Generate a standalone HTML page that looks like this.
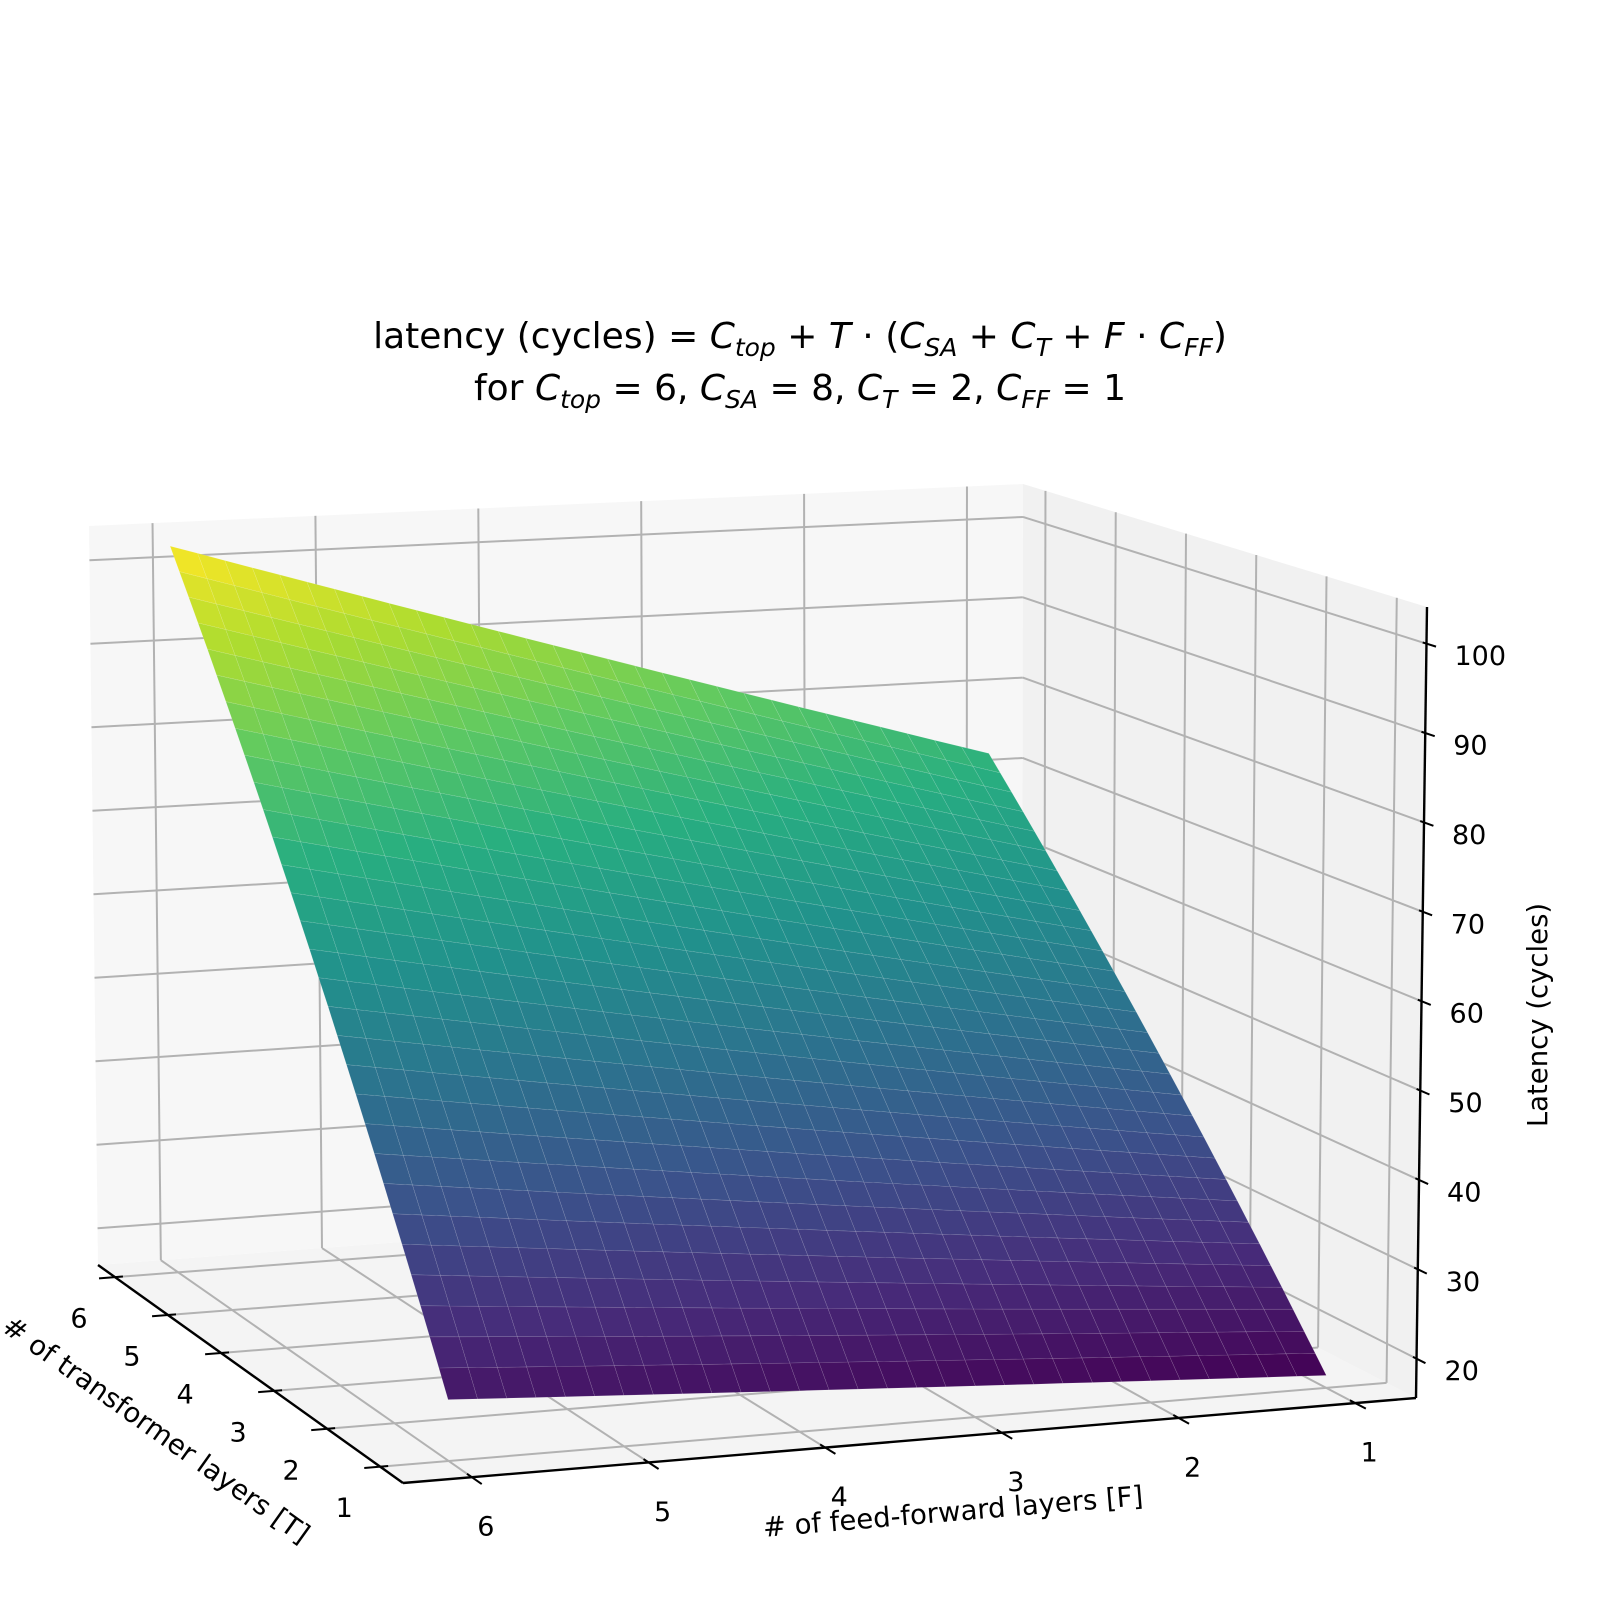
<!DOCTYPE html>
<html><head><meta charset="utf-8">
<style>
html,body{margin:0;padding:0;background:#fff;}
#wrap{position:relative;width:1600px;height:1600px;overflow:hidden;font-family:"DejaVu Sans","Liberation Sans",sans-serif;}
.title{position:absolute;left:0;width:1600px;text-align:center;font-size:36px;color:#000;white-space:nowrap;}
.title i{font-style:oblique;}
.title sub{font-size:25px;vertical-align:-8px;line-height:0;font-style:oblique;}
svg text{font-family:"DejaVu Sans","Liberation Sans",sans-serif;fill:#000;}
</style></head>
<body>
<div id="wrap">
<div class="title" style="top:316px">latency (cycles) = <i>C</i><sub>top</sub> + <i>T</i> · (<i>C</i><sub>SA</sub> + <i>C</i><sub>T</sub> + <i>F</i> · <i>C</i><sub>FF</sub>)</div>
<div class="title" style="top:368px">for <i>C</i><sub>top</sub> = 6, <i>C</i><sub>SA</sub> = 8, <i>C</i><sub>T</sub> = 2, <i>C</i><sub>FF</sub> = 1</div>
<svg id="plot" width="1600" height="1600" style="position:absolute;left:0;top:0"></svg>
</div>
<script>
// ---- data ----
const tValues = [1, 1.167, 1.333, 1.5, 1.667, 1.833, 2, 2.167, 2.333, 2.5, 2.667, 2.833, 3, 3.167, 3.333, 3.5, 3.667, 3.833, 4, 4.167, 4.333, 4.5, 4.667, 4.833, 5, 5.167, 5.333, 5.5, 5.667, 5.833, 6];
const fValues = [1, 1.167, 1.333, 1.5, 1.667, 1.833, 2, 2.167, 2.333, 2.5, 2.667, 2.833, 3, 3.167, 3.333, 3.5, 3.667, 3.833, 4, 4.167, 4.333, 4.5, 4.667, 4.833, 5, 5.167, 5.333, 5.5, 5.667, 5.833, 6];
const costTop = [6];
const costSA = [8];
const costT = [2];
const costFF = [1];
const tTicks = [1, 2, 3, 4, 5, 6];
const fTicks = [1, 2, 3, 4, 5, 6];
const zTicks = [20, 30, 40, 50, 60, 70, 80, 90, 100];
const zTickLabels = ["20", "30", "40", "50", "60", "70", "80", "90", "100"];

// ---- axis limits / projection ----
const T_MIN = 0.57, T_MAX = 6.32, F_MIN = 0.656, F_MAX = 6.39, Z_MIN = 15.6, Z_MAX = 104.1;
const K = {
  '000': [1416, 1398], '010': [403, 1483], '100': [1022, 1195], '110': [98, 1265],
  '001': [1427, 607], '011': [395, 620], '101': [1023, 484], '111': [89, 526]
};
function lerp(a, b, t) { return [a[0] + (b[0] - a[0]) * t, a[1] + (b[1] - a[1]) * t]; }
function proj(T, F, z) {
  const u = (T - T_MIN) / (T_MAX - T_MIN), v = (F - F_MIN) / (F_MAX - F_MIN), w = (z - Z_MIN) / (Z_MAX - Z_MIN);
  const f0 = lerp(lerp(K['000'], K['010'], v), lerp(K['100'], K['110'], v), u);
  const f1 = lerp(lerp(K['001'], K['011'], v), lerp(K['101'], K['111'], v), u);
  return lerp(f0, f1, w);
}
const stops = [[68,1,84],[71,44,122],[59,82,139],[44,114,142],[33,145,140],[40,174,128],[94,201,98],[173,220,48],[253,231,37]];
function viridis(t) {
  t = Math.max(0, Math.min(1, t)) * 8; const i = Math.min(7, Math.floor(t)), f = t - i;
  const a = stops[i], b = stops[i + 1];
  return 'rgb(' + [0,1,2].map(k => Math.round(a[k] + (b[k] - a[k]) * f)).join(',') + ')';
}
function latency(T, F) { return costTop[0] + T * (costSA[0] + costT[0] + F * costFF[0]); }

const NS = 'http://www.w3.org/2000/svg';
const svg = document.getElementById('plot');
function mk(tag, attrs, parent) {
  const e = document.createElementNS(NS, tag);
  for (const k in attrs) e.setAttribute(k, attrs[k]);
  (parent || svg).appendChild(e); return e;
}
function pts(list) { return list.map(p => p[0].toFixed(1) + ',' + p[1].toFixed(1)).join(' '); }

// panes
const floor = mk('polygon', {points: pts([proj(T_MIN,F_MIN,Z_MIN), proj(T_MIN,F_MAX,Z_MIN), proj(T_MAX,F_MAX,Z_MIN), proj(T_MAX,F_MIN,Z_MIN)]), fill: '#f4f4f4'});


const back = mk('polygon', {points: pts([proj(T_MAX,F_MIN,Z_MIN), proj(T_MAX,F_MAX,Z_MIN), proj(T_MAX,F_MAX,Z_MAX), proj(T_MAX,F_MIN,Z_MAX)]), fill: '#f7f7f7'});


const side = mk('polygon', {points: pts([proj(T_MIN,F_MIN,Z_MIN), proj(T_MAX,F_MIN,Z_MIN), proj(T_MAX,F_MIN,Z_MAX), proj(T_MIN,F_MIN,Z_MAX)]), fill: '#f1f1f1'});



// gridlines
const grid = mk('g', {stroke: '#b2b2b2', 'stroke-width': 2, fill: 'none'});


function line(a, b, parent, attrs) { const l = mk('line', Object.assign({x1: a[0], y1: a[1], x2: b[0], y2: b[1]}, attrs || {}), parent); return l; }
fTicks.forEach(F => {
  const l1 = line(proj(T_MAX,F,Z_MIN), proj(T_MAX,F,Z_MAX), grid);
  
  
  const l2 = line(proj(T_MIN,F,Z_MIN), proj(T_MAX,F,Z_MIN), grid);
  
  
});
tTicks.forEach(T => {
  const l1 = line(proj(T,F_MIN,Z_MIN), proj(T,F_MIN,Z_MAX), grid);
  
  
  const l2 = line(proj(T,F_MIN,Z_MIN), proj(T,F_MAX,Z_MIN), grid);
  
  
});
zTicks.forEach(z => {
  const l1 = line(proj(T_MAX,F_MIN,z), proj(T_MAX,F_MAX,z), grid);
  
  
  const l2 = line(proj(T_MIN,F_MIN,z), proj(T_MAX,F_MIN,z), grid);
  
  
});

// axes lines
const axes = mk('g', {stroke: '#000', 'stroke-width': 2.4, fill: 'none'});


const ax1 = line(proj(T_MAX,F_MAX,Z_MIN), proj(T_MIN,F_MAX,Z_MIN), axes);


const ax2 = line(proj(T_MIN,F_MAX,Z_MIN), proj(T_MIN,F_MIN,Z_MIN), axes);


const ax3 = line(proj(T_MIN,F_MIN,Z_MIN), proj(T_MIN,F_MIN,Z_MAX), axes);



function unit(a, b) { const dx = b[0] - a[0], dy = b[1] - a[1], L = Math.hypot(dx, dy); return [dx / L, dy / L]; }
function tick(p, d, inn, out) { return line([p[0] - d[0] * inn, p[1] - d[1] * inn], [p[0] + d[0] * out, p[1] + d[1] * out], axes, {'stroke-width': 2}); }

const labels = mk('g', {'font-size': 27, 'text-anchor': 'middle', 'dominant-baseline': 'central'});


function text(x, y, s, parent, extra) { const t = mk('text', Object.assign({x: x, y: y}, extra || {}), parent); t.textContent = s; return t; }

tTicks.forEach(T => {
  const p = proj(T, F_MAX, Z_MIN);
  const d = unit(proj(T, F_MIN, Z_MIN), p);
  const tk = tick(p, d, 8, 16);
  
  
  const lb = text(p[0] - 36, p[1] + 42, String(T), labels);
  
  
});
fTicks.forEach(F => {
  const p = proj(T_MIN, F, Z_MIN);
  const d = unit(proj(T_MAX, F, Z_MIN), p);
  const tk = tick(p, d, 6, 12);
  
  
  const lb = text(p[0] + 14, p[1] + 50, String(F), labels);
  
  
});
zTicks.forEach((z, i) => {
  const p = proj(T_MIN, F_MIN, z);
  const d = unit(proj(T_MAX, F_MIN, z), p);
  const tk = tick(p, d, 4, 10);
  
  
  const lb = text(p[0] + 28, p[1] + 13, zTickLabels[i], labels, {'text-anchor': 'start'});
  
  
});

// axis titles
const tt = text(156, 1430, '# of transformer layers [T]', svg, {'font-size': 27.5, 'text-anchor': 'middle', 'dominant-baseline': 'central', transform: 'rotate(35.5 156 1430)'});


const ft = text(953, 1512, '# of feed-forward layers [F]', svg, {'font-size': 27.5, 'text-anchor': 'middle', 'dominant-baseline': 'central', transform: 'rotate(-4.8 953 1512)'});


const zt = text(1538, 1015, 'Latency (cycles)', svg, {'font-size': 27.5, 'text-anchor': 'middle', 'dominant-baseline': 'central', transform: 'rotate(-90 1538 1015)'});



// surface
let zlo = Infinity, zhi = -Infinity;
tValues.forEach(T => fValues.forEach(F => { const z = latency(T, F); zlo = Math.min(zlo, z); zhi = Math.max(zhi, z); }));
const surf = mk('g', {});


for (let i = 0; i < tValues.length - 1; i++) {
  for (let j = 0; j < fValues.length - 1; j++) {
    const T0 = tValues[i], T1 = tValues[i + 1], F0 = fValues[j], F1 = fValues[j + 1];
    const zs = [latency(T0, F0), latency(T0, F1), latency(T1, F1), latency(T1, F0)];
    const avg = (zs[0] + zs[1] + zs[2] + zs[3]) / 4;
    const col = viridis((avg - zlo) / (zhi - zlo));
    const poly = mk('polygon', {points: pts([proj(T0, F0, zs[0]), proj(T0, F1, zs[1]), proj(T1, F1, zs[2]), proj(T1, F0, zs[3])]), fill: col, stroke: 'rgba(255,255,255,0.16)', 'stroke-width': 0.6}, surf);
    
    
  }
}
</script>
</body></html>
